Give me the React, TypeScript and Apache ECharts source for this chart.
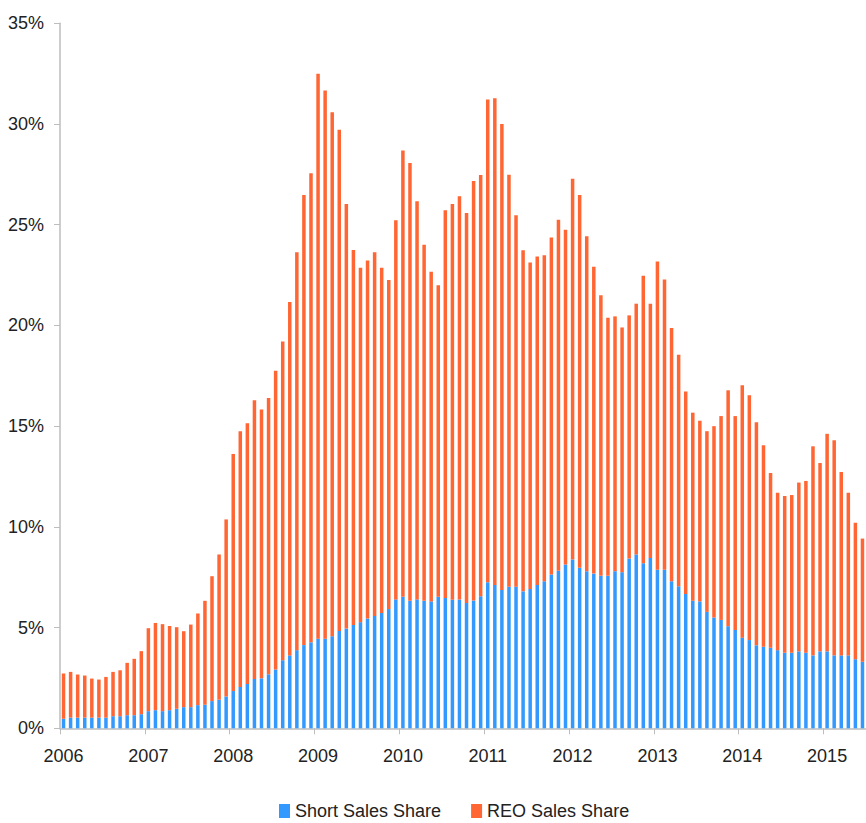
import React, { useEffect, useRef } from "react";
import * as echarts from "echarts";

const years = ["2006", "2007", "2008", "2009", "2010", "2011", "2012", "2013", "2014", "2015"];
const monthsInLastYear = 6;

// Total distressed share (top of each stacked bar), % of sales
const total2006 = [2.72, 2.8, 2.67, 2.62, 2.47, 2.42, 2.55, 2.8, 2.88, 3.25, 3.45, 3.83];
const total2007 = [4.97, 5.23, 5.17, 5.08, 5.02, 4.82, 5.15, 5.7, 6.33, 7.55, 8.63, 10.37];
const total2008 = [13.62, 14.75, 15.15, 16.28, 15.83, 16.4, 17.75, 19.2, 21.17, 23.63, 26.48, 27.55];
const total2009 = [32.5, 31.67, 30.58, 29.72, 26.03, 23.75, 22.87, 23.23, 23.63, 22.87, 22.25, 25.22];
const total2010 = [28.68, 28.07, 26.17, 24.0, 22.67, 22.0, 25.72, 26.03, 26.42, 25.58, 27.17, 27.47];
const total2011 = [31.22, 31.28, 30.0, 27.48, 25.47, 23.73, 23.12, 23.42, 23.48, 24.37, 25.25, 24.75];
const total2012 = [27.28, 26.47, 24.43, 22.92, 21.5, 20.38, 20.45, 19.9, 20.5, 21.08, 22.47, 21.08];
const total2013 = [23.17, 22.28, 19.87, 18.55, 16.72, 15.67, 15.27, 14.75, 15.0, 15.5, 16.78, 15.5];
const total2014 = [17.03, 16.53, 15.2, 14.05, 12.67, 11.7, 11.53, 11.58, 12.2, 12.28, 14.0, 13.17];
const total2015 = [14.62, 14.3, 12.72, 11.7, 10.2, 9.42];

// Short sales share, % of sales
const short2006 = [0.47, 0.53, 0.53, 0.53, 0.53, 0.53, 0.53, 0.6, 0.6, 0.65, 0.65, 0.7];
const short2007 = [0.85, 0.9, 0.85, 0.9, 0.97, 1.05, 1.05, 1.15, 1.17, 1.35, 1.42, 1.58];
const short2008 = [1.85, 2.05, 2.2, 2.45, 2.48, 2.68, 2.92, 3.38, 3.62, 3.88, 4.13, 4.27];
const short2009 = [4.45, 4.45, 4.57, 4.83, 4.95, 5.13, 5.27, 5.45, 5.58, 5.73, 5.92, 6.4];
const short2010 = [6.53, 6.33, 6.4, 6.33, 6.3, 6.53, 6.47, 6.38, 6.4, 6.22, 6.35, 6.55];
const short2011 = [7.25, 7.12, 6.87, 7.03, 7.03, 6.8, 6.92, 7.12, 7.3, 7.63, 7.82, 8.13];
const short2012 = [8.38, 7.97, 7.8, 7.68, 7.57, 7.57, 7.8, 7.75, 8.43, 8.63, 8.2, 8.45];
const short2013 = [7.87, 7.87, 7.3, 7.05, 6.67, 6.33, 6.3, 5.78, 5.5, 5.38, 5.07, 4.88];
const short2014 = [4.5, 4.38, 4.12, 4.05, 4.0, 3.88, 3.75, 3.75, 3.82, 3.75, 3.62, 3.82];
const short2015 = [3.82, 3.62, 3.62, 3.62, 3.43, 3.3];

const totalShare = [
  ...total2006, ...total2007, ...total2008, ...total2009, ...total2010,
  ...total2011, ...total2012, ...total2013, ...total2014, ...total2015,
];
const shortShare = [
  ...short2006, ...short2007, ...short2008, ...short2009, ...short2010,
  ...short2011, ...short2012, ...short2013, ...short2014, ...short2015,
];
const reoShare = totalShare.map((t, i) => Math.round((t - shortShare[i]) * 100) / 100);

const categories: string[] = [];
years.forEach((y, yi) => {
  const n = yi === years.length - 1 ? monthsInLastYear : 12;
  for (let m = 1; m <= n; m++) categories.push(`${y}-${String(m).padStart(2, "0")}`);
});

const BLUE = "#3399ff";
const ORANGE = "#ff6633";
const FONT = "'Liberation Sans', Arial, sans-serif";

export default function App() {
  const ref = useRef<HTMLDivElement>(null);
  useEffect(() => {
    if (!ref.current) return;
    const chart = echarts.init(ref.current, null, { renderer: "svg" });
    chart.setOption({
      animation: false,
      backgroundColor: "#ffffff",
      textStyle: { fontFamily: FONT },
      grid: { left: 60, right: 0, top: 23.3, bottom: 94.7, containLabel: false },
      legend: {
        top: 802,
        left: 279,
        padding: 0,
        icon: "rect",
        itemWidth: 11,
        itemHeight: 14,
        itemGap: 30,
        textStyle: { fontSize: 18, color: "#222", fontFamily: FONT },
        data: ["Short Sales Share", "REO Sales Share"],
      },
      xAxis: {
        type: "category",
        data: categories,
        axisLine: { lineStyle: { color: "#bdbdbd", width: 1.5 } },
        axisTick: { show: true, length: 6, lineStyle: { color: "#bdbdbd" } },
        axisLabel: {
          interval: 11,
          margin: 19,
          fontSize: 18,
          color: "#222",
          fontFamily: FONT,
          formatter: (v: string) => v.slice(0, 4),
        },
      },
      yAxis: {
        type: "value",
        min: 0,
        max: 35,
        interval: 5,
        axisLine: { show: true, lineStyle: { color: "#bdbdbd", width: 1.5 } },
        axisTick: { show: true, length: 6, lineStyle: { color: "#bdbdbd" } },
        splitLine: { show: false },
        axisLabel: { formatter: "{value}%", fontSize: 18, color: "#222", margin: 16, fontFamily: FONT },
      },
      series: [
        {
          name: "Short Sales Share",
          type: "bar",
          stack: "share",
          data: shortShare,
          barWidth: 3.5,
          itemStyle: { color: BLUE },
        },
        {
          name: "REO Sales Share",
          type: "bar",
          stack: "share",
          data: reoShare,
          barWidth: 3.5,
          itemStyle: { color: ORANGE },
        },
      ],
    });
    return () => chart.dispose();
  }, []);
  return (
    <div
      ref={ref}
      style={{ position: "fixed", left: 0, top: 0, width: 866, height: 823 }}
    />
  );
}
